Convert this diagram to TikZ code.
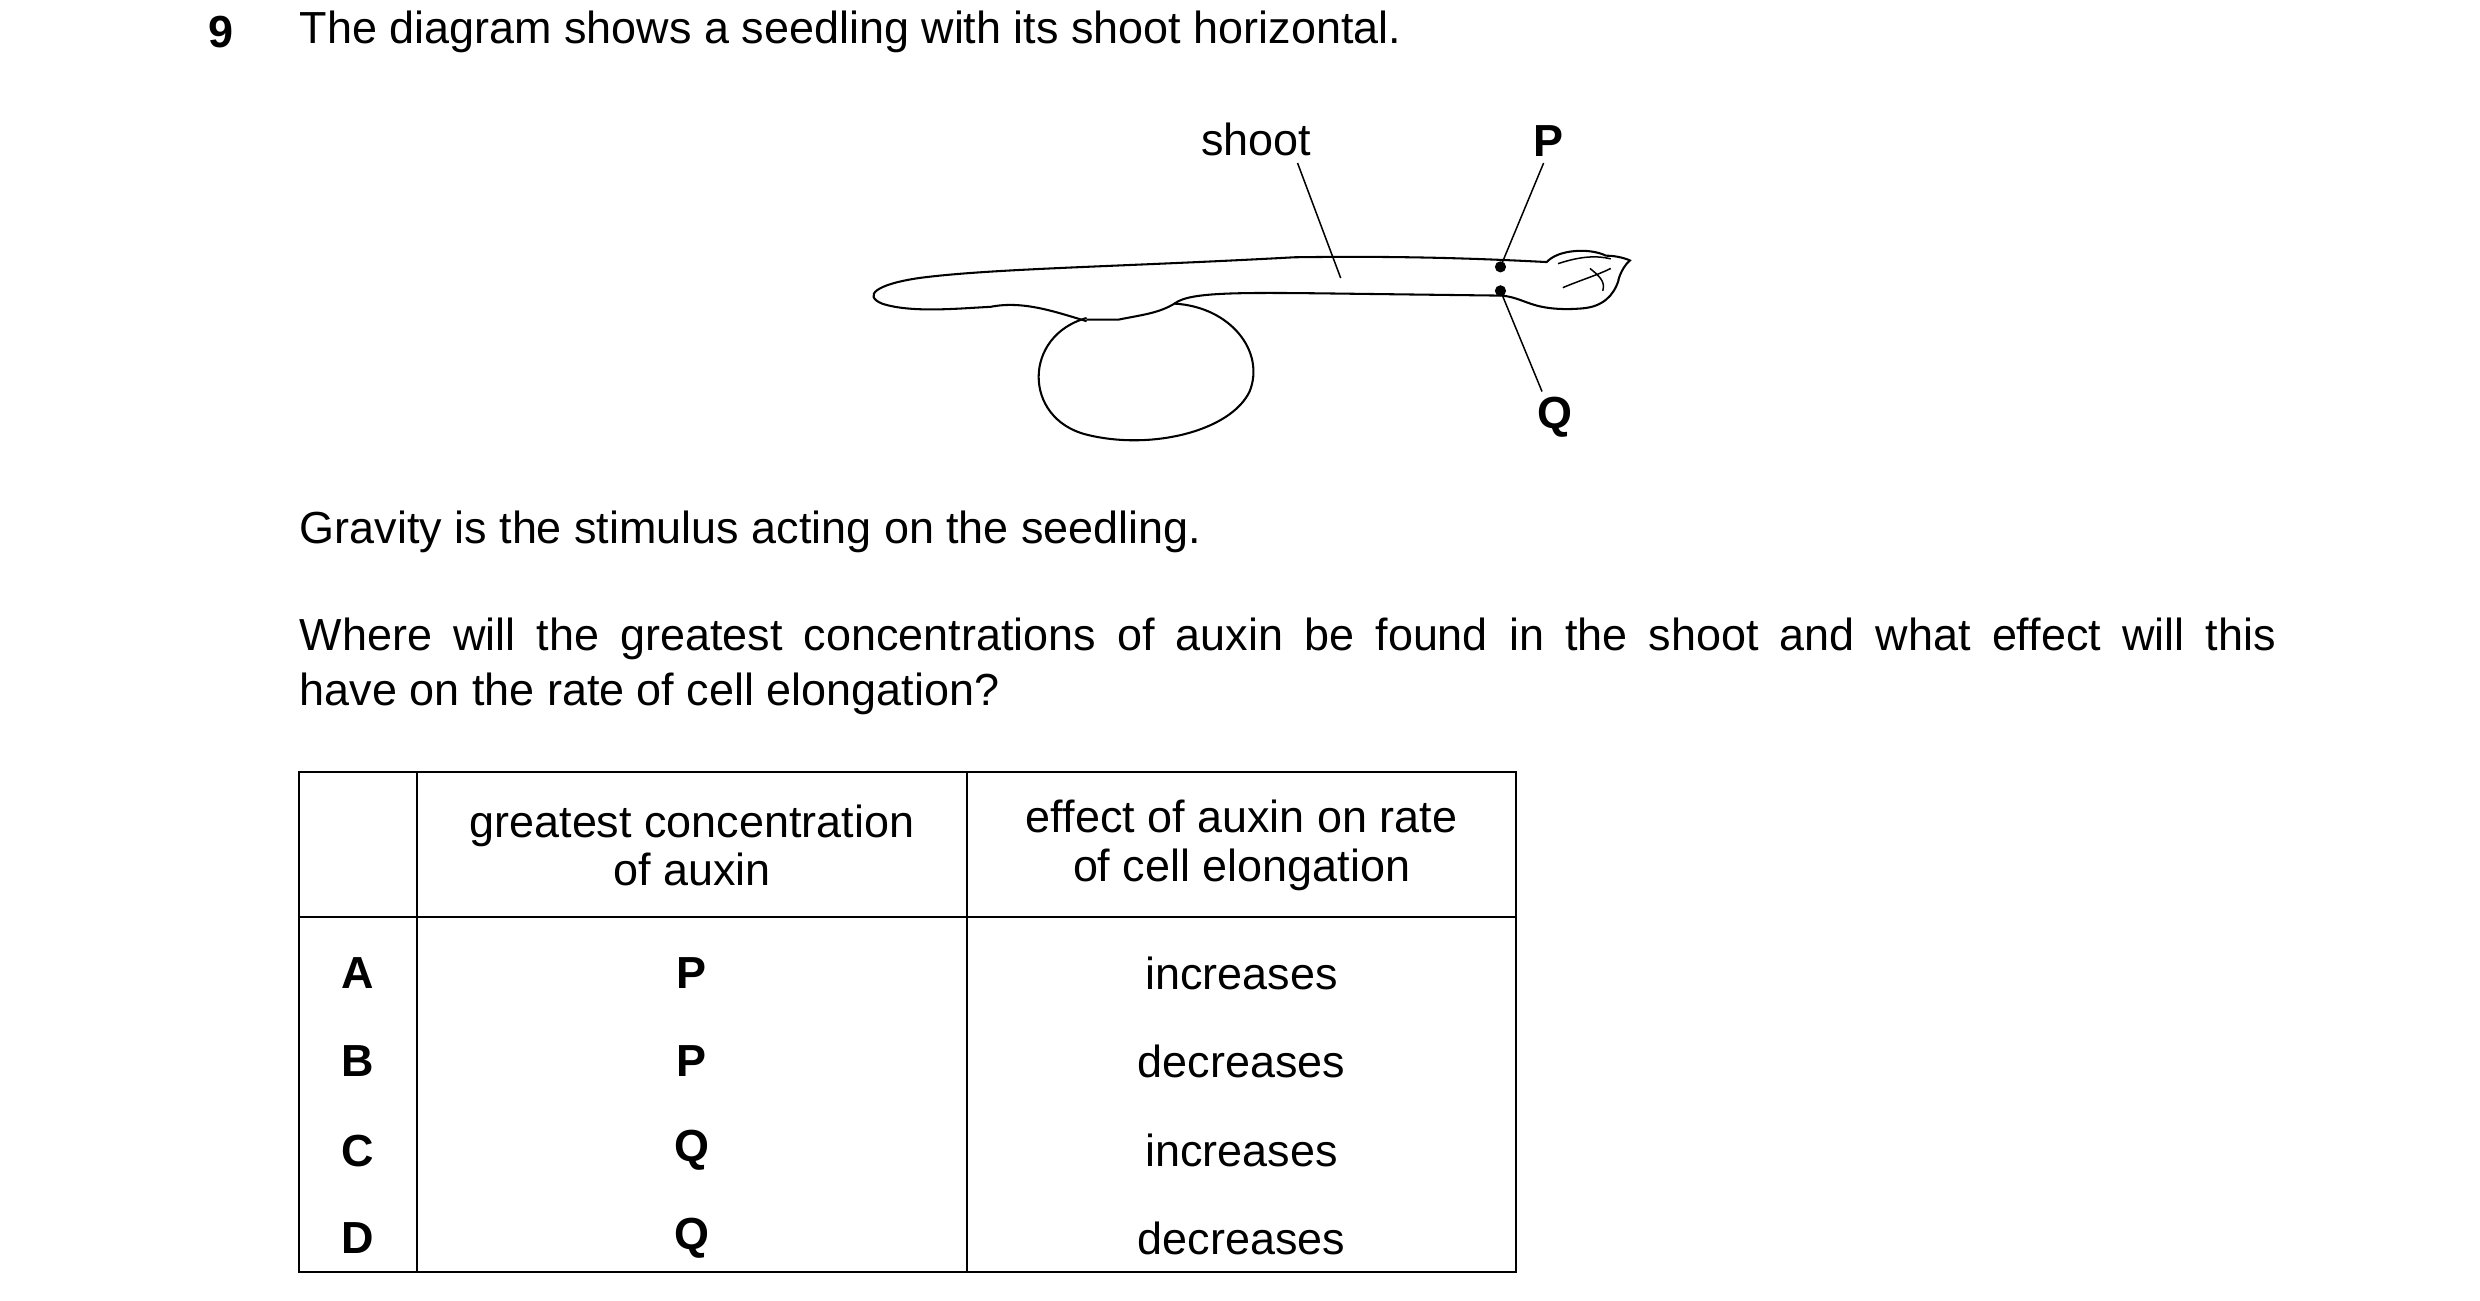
\documentclass[tikz,border=0pt]{standalone}
\usepackage{fontspec}
\setmainfont{Liberation Sans}
\begin{document}
\begin{tikzpicture}[x=0.3mm,y=-0.3mm,line width=1.1pt,
  txt/.style={font=\fontsize{24}{28}\selectfont,inner sep=0},
  bt/.style={txt,font=\fontsize{24}{28}\selectfont\bfseries},
  lbl/.style={line width=0.8pt}]
\useasboundingbox (0,0) rectangle (1552,814);
\node[bt,anchor=west] (n9) at (130,20) {9};
\node[txt,anchor=west] (t1) at (187,20) {The diagram shows a seedling with its shoot horizontal.};
% seedling
\draw (680,201) .. controls (660,195) and (640,188) .. (620,192) .. controls (600,193) and (570,196) .. (552,190)
  .. controls (540,185) and (548,178) .. (575,174) .. controls (620,168) and (700,167) .. (810,161)
  .. controls (880,160) and (930,162) .. (968,164);
\draw (735,190) .. controls (745,182) and (780,183) .. (860,184) -- (940,185) .. controls (950,186) and (955,190) .. (965,192);
\draw (680,199) .. controls (640,210) and (640,262) .. (680,272) .. controls (720,282) and (770,270) .. (782,245)
  .. controls (792,220) and (770,192) .. (735,190) .. controls (725,196) and (715,197) .. (700,200) -- (680,200);
% bud
\draw (968,164) .. controls (975,156) and (995,155) .. (1005,160) .. controls (1012,160) and (1018,162) .. (1020,163)
  .. controls (1014,168) and (1012,178) .. (1013,175) .. controls (1010,185) and (1003,192) .. (990,193)
  .. controls (978,194) and (970,193) .. (965,192);
\draw[lbl] (975,165) .. controls (990,160) and (1000,160) .. (1008,162);
\draw[lbl] (978,180) .. controls (990,175) and (1000,172) .. (1008,168);
\draw[lbl] (995,168) .. controls (1000,172) and (1005,176) .. (1003,182);
\fill (939,167) circle (3.5) coordinate (dp);
\fill (939,182) circle (3.5) coordinate (dq);
\node[txt] (sh) at (786,87) {shoot};
\node[bt] (P) at (969,88) {P};
\node[bt] (Q) at (973,261) {Q};
\coordinate (sa) at (839,174);
\coordinate (sb) at (812,102);
\draw[lbl] (sb) -- (sa);
\draw[lbl] (966,102) -- (dp);
\draw[lbl] (dq) -- (965,245);
\node[txt,anchor=west] (g) at (187,333) {Gravity is the stimulus acting on the seedling.};
\node[txt,anchor=north west,text width=371mm,align=justify,font=\fontsize{24}{29.5}\selectfont] (w) at (187,386)
 {Where will the greatest concentrations of auxin be found in the shoot and what effect will this\linebreak have on the rate of cell elongation?};
% table
\draw (187,483) rectangle (949,796);
\draw (261,483) -- (261,796) (605,483) -- (605,796) (187,574) -- (949,574);
\node[txt,align=center] (h1) at (433,529) {greatest concentration\\[-2pt]of auxin};
\node[txt,align=center] (h2) at (777,529) {effect of auxin on rate\\[-2pt]of cell elongation};
\foreach \l/\p/\e/\y in {A/P/increases/609,B/P/decreases/664,C/Q/increases/720,D/Q/decreases/775}{
 \node[bt] at (224,\y) {\l};
 \node[bt] at (433,\y) {\p};
 \node[txt] at (777,\y) {\e};}
\end{tikzpicture}
\end{document}
